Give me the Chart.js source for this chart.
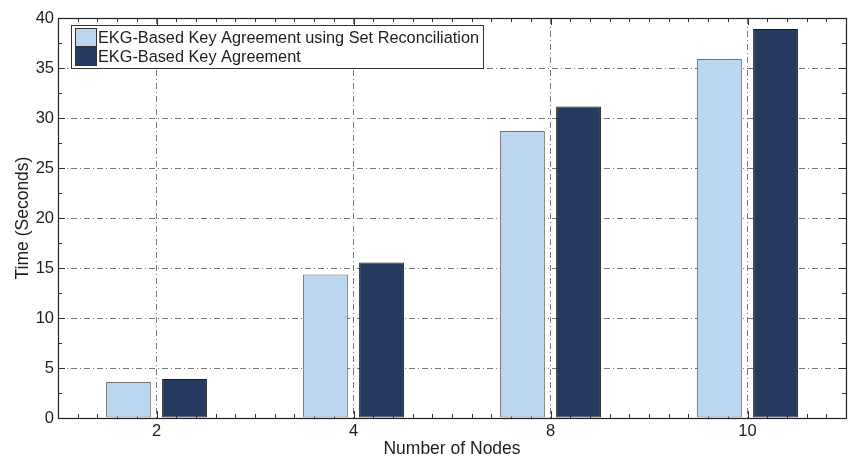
<!DOCTYPE html>
<html>
<head>
<meta charset="utf-8">
<script src="https://cdn.jsdelivr.net/npm/chart.js@4.4.1/dist/chart.umd.min.js"></script>
<style>
  html, body { margin: 0; padding: 0; background: #fff; }
  #wrap { width: 850px; height: 458px; }
</style>
</head>
<body>
<div id="wrap"><canvas id="chart" width="850" height="458"></canvas></div>
<script>
var nodeLabels = ['2', '4', '8', '10'];
var setReconTimes = [3.6, 14.35, 28.7, 35.9];
var keyAgreeTimes = [3.9, 15.55, 31.15, 38.9];
var yTicks = [0, 5, 10, 15, 20, 25, 30, 35, 40];
var seriesNames = ['EKG-Based Key Agreement using Set Reconciliation', 'EKG-Based Key Agreement'];

var lightBlue = '#bcd6f2';
var navy = '#253a5f';
var textColor = '#1e1e1e';
var fontFamily = '"Liberation Sans", Arial, sans-serif';

// inward tick marks on all four sides, drawn under the bars
var tickMarks = {
    id: 'tickMarks',
    beforeDatasetsDraw: function(chart) {
        var ctx = chart.ctx, a = chart.chartArea;
        var xs = chart.scales.x, ys = chart.scales.y;
        ctx.save();
        ctx.strokeStyle = '#333';
        ctx.lineWidth = 1;
        ctx.beginPath();
        for (var i = -5; i <= nodeLabels.length * 10 - 5; i++) {
            var px = Math.round(xs.getPixelForValue(i / 10)) + 0.5;
            var len = (i % 10 === 0) ? 7 : 4;
            ctx.moveTo(px, a.bottom); ctx.lineTo(px, a.bottom - len);
            ctx.moveTo(px, a.top); ctx.lineTo(px, a.top + len);
        }
        for (var v = 0; v <= 40; v += 2.5) {
            var py = Math.round(ys.getPixelForValue(v)) + 0.5;
            var l = (v % 5 === 0) ? 7 : 4;
            ctx.moveTo(a.left, py); ctx.lineTo(a.left + l, py);
            ctx.moveTo(a.right, py); ctx.lineTo(a.right - l, py);
        }
        ctx.stroke();
        ctx.restore();
    }
};

// plot frame and legend box on top
var frameAndLegend = {
    id: 'frameAndLegend',
    afterDatasetsDraw: function(chart) {
        var ctx = chart.ctx, a = chart.chartArea;
        ctx.save();
        ctx.strokeStyle = '#222';
        ctx.lineWidth = 1.2;
        ctx.strokeRect(Math.round(a.left) + 0.5, Math.round(a.top) + 0.5,
            Math.round(a.right - a.left), Math.round(a.bottom - a.top));

        var bx = 71.5, by = 25.5, bw = 412, bh = 43;
        ctx.fillStyle = '#fff';
        ctx.fillRect(bx, by, bw, bh);
        ctx.lineWidth = 1;
        ctx.strokeStyle = '#333';
        ctx.strokeRect(bx, by, bw, bh);

        ctx.font = '16.3px ' + fontFamily;
        ctx.textBaseline = 'middle';
        ctx.textAlign = 'left';
        chart.data.datasets.forEach(function(ds, i) {
            var rowY = by + 3 + i * 19;
            ctx.fillStyle = ds.backgroundColor;
            ctx.fillRect(75.5, rowY, 21, 18);
            ctx.strokeStyle = '#333';
            ctx.strokeRect(75.5, rowY, 21, 18);
            ctx.fillStyle = textColor;
            ctx.fillText(ds.label, 98, rowY + 10.5);
        });
        ctx.restore();
    }
};

new Chart(document.getElementById('chart'), {
    type: 'bar',
    data: {
        labels: nodeLabels,
        datasets: [{
            label: seriesNames[0],
            data: setReconTimes,
            backgroundColor: lightBlue,
            borderColor: '#707070',
            borderWidth: 1,
            borderSkipped: false
        }, {
            label: seriesNames[1],
            data: keyAgreeTimes,
            backgroundColor: navy,
            borderColor: '#1c1c1c',
            borderWidth: 1,
            borderSkipped: false
        }]
    },
    plugins: [tickMarks, frameAndLegend],
    options: {
        responsive: false,
        animation: false,
        categoryPercentage: 0.569,
        barPercentage: 0.8,
        layout: { padding: { top: 18, right: 4, left: 0, bottom: 0 } },
        plugins: {
            legend: { display: false },
            tooltip: { enabled: false }
        },
        scales: {
            x: {
                grid: {
                    offset: false,
                    drawTicks: false,
                    color: '#777',
                    lineWidth: 1
                },
                border: { display: false, dash: [6, 3, 1, 3] },
                ticks: {
                    padding: 4,
                    color: textColor,
                    font: { family: fontFamily, size: 16.5 }
                },
                title: {
                    display: true,
                    text: 'Number of Nodes',
                    color: textColor,
                    font: { family: fontFamily, size: 17.5 },
                    padding: { top: 0, bottom: -2 }
                },
                afterFit: function(scale) { scale.height = 40; }
            },
            y: {
                min: 0,
                max: 40,
                afterBuildTicks: function(scale) {
                    scale.ticks = yTicks.map(function(v) { return { value: v }; });
                },
                grid: {
                    drawTicks: false,
                    color: '#777',
                    lineWidth: 1
                },
                border: { display: false, dash: [6, 3, 1, 3] },
                ticks: {
                    padding: 4,
                    color: textColor,
                    font: { family: fontFamily, size: 16.5 }
                },
                title: {
                    display: true,
                    text: 'Time (Seconds)',
                    color: textColor,
                    font: { family: fontFamily, size: 17.5 },
                    padding: { top: 13, bottom: 0 }
                },
                afterFit: function(scale) { scale.width = 58; }
            }
        }
    }
});
</script>
</body>
</html>
